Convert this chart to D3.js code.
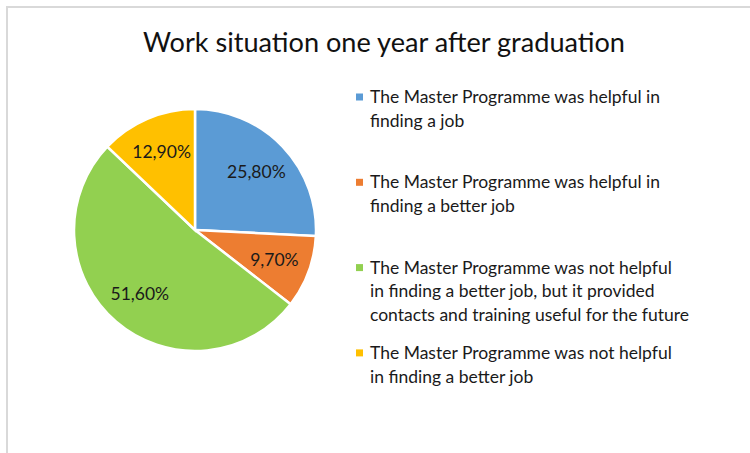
<!DOCTYPE html>
<html>
<head>
<meta charset="utf-8">
<script src="https://cdn.jsdelivr.net/npm/d3@7"></script>
<style>
  body { margin: 0; background: #fff; }
  svg { display: block; }
</style>
</head>
<body>
<div id="chart"></div>
<script>
const title = 'Work situation one year after graduation';
const categories = [
  ['The Master Programme was helpful in', 'finding a job'],
  ['The Master Programme was helpful in', 'finding a better job'],
  ['The Master Programme was not helpful', 'in finding a better job, but it provided', 'contacts and training useful for the future'],
  ['The Master Programme was not helpful', 'in finding a better job']
];
const values = [25.8, 9.7, 51.6, 12.9];
const valueLabels = ['25,80%', '9,70%', '51,60%', '12,90%'];
const palette = ['#5B9BD5', '#ED7D31', '#92D050', '#FFC000'];

const width = 750, height = 453;
const font = 'Lato, "Open Sans", sans-serif';

const svg = d3.select('#chart').append('svg')
  .attr('width', width)
  .attr('height', height);

// chart area border (only top and left visible in the crop)
svg.append('rect')
  .attr('x', 7).attr('y', 7)
  .attr('width', 760).attr('height', 460)
  .attr('fill', '#fff')
  .attr('stroke', '#d9d9d9')
  .attr('stroke-width', 2);

svg.append('text')
  .attr('x', 384).attr('y', 52)
  .attr('text-anchor', 'middle')
  .attr('textLength', 482)
  .attr('lengthAdjust', 'spacingAndGlyphs')
  .style('font-family', font)
  .style('font-size', '27px')
  .style('fill', '#111')
  .text(title);

const data = values.map((v, i) => ({ value: v, label: valueLabels[i], color: palette[i], lines: categories[i] }));

const radius = 121;
const pie = d3.pie().sort(null).value(d => d.value);
const arc = d3.arc().innerRadius(0).outerRadius(radius);
const labelArc = d3.arc().innerRadius(radius * 0.7).outerRadius(radius * 0.7);

const g = svg.append('g').attr('transform', 'translate(195,230)');

const slices = g.selectAll('.slice')
  .data(pie(data))
  .enter();

slices.append('path')
  .classed('slice', true)
  .attr('d', arc)
  .style('fill', d => d.data.color)
  .style('stroke', '#fff')
  .style('stroke-width', 2.5);

slices.append('text')
  .attr('transform', d => 'translate(' + labelArc.centroid(d) + ')')
  .attr('text-anchor', 'middle')
  .attr('dy', '0.35em')
  .style('font-family', font)
  .style('font-size', '17.5px')
  .style('fill', '#1a1a1a')
  .text(d => d.data.label);

// legend
const legend = svg.append('g').attr('transform', 'translate(356,97)');
const itemStep = 85.3, lineH = 23.7;

const items = legend.selectAll('.item')
  .data(data)
  .enter().append('g')
  .attr('class', 'item')
  .attr('transform', (d, i) => 'translate(0,' + (i * itemStep) + ')');

items.append('rect')
  .attr('x', 0).attr('y', -3.5)
  .attr('width', 7).attr('height', 7)
  .style('fill', d => d.color);

items.each(function(d) {
  const t = d3.select(this).append('text')
    .style('font-family', font)
    .style('font-size', '17.5px')
    .style('fill', '#1a1a1a');
  d.lines.forEach((ln, j) => {
    t.append('tspan').attr('x', 14).attr('y', j * lineH).attr('dy', '0.35em').text(ln);
  });
});
</script>
</body>
</html>
